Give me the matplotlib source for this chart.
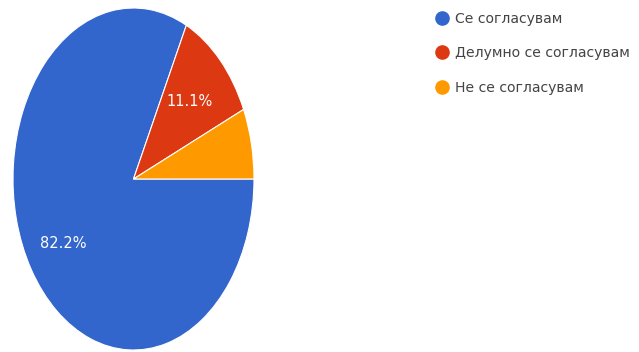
import matplotlib.pyplot as plt
from matplotlib.lines import Line2D

# Податоци
labels = ["Се согласувам", "Делумно се согласувам", "Не се согласувам"]
values = [37, 5, 3]
colors = ["#3366CC", "#DC3912", "#FF9900"]

W, H = 639, 352
fig = plt.figure(figsize=(W / 100, H / 100), dpi=100)
fig.patch.set_facecolor("white")

# елипсовидна пита (развлечена вертикално)
ax = fig.add_axes([13 / W, 2 / H, 241 / W, 342 / H])
wedges, texts, autotexts = ax.pie(
    values, colors=colors, startangle=0, counterclock=False,
    autopct=lambda p: f"{p:.1f}%" if p > 10 else "",
    pctdistance=0.65,
    wedgeprops=dict(edgecolor="white", linewidth=0.8),
    textprops=dict(color="white", fontsize=10.5),
)
ax.set_aspect("auto")
ax.set_xlim(-1, 1)
ax.set_ylim(-1, 1)
autotexts[0].set_position((-0.585, -0.38))

# легенда
handles = [Line2D([], [], marker="o", ls="", markersize=9.5,
                  markerfacecolor=c, markeredgecolor=c) for c in colors]
leg = fig.legend(handles, labels, loc="upper left",
                 bbox_to_anchor=(422 / W, 1.0 + 1 / H),
                 frameon=False, fontsize=10.1, labelspacing=1.48,
                 handletextpad=0.42, handlelength=1.0)
for t in leg.get_texts():
    t.set_color("#444444")

plt.savefig("out.png", dpi=100, facecolor="white")
plt.close()
